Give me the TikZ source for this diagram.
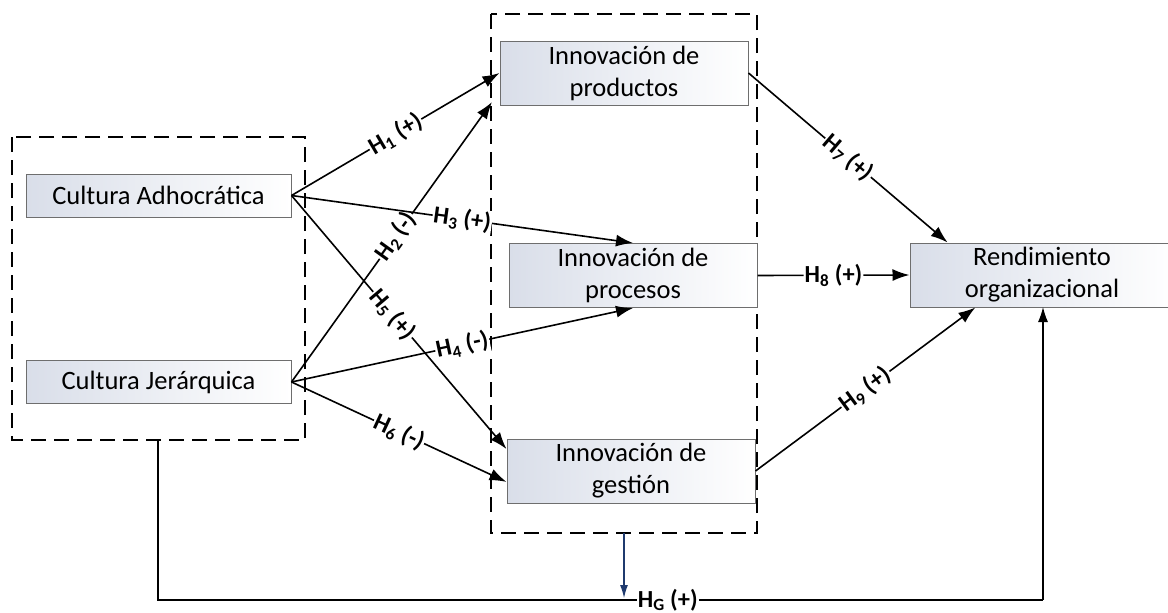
\documentclass[tikz,border=0pt]{standalone}
\usepackage{fontspec}
\setmainfont{Carlito}
\usetikzlibrary{arrows.meta,calc}
\definecolor{boxl}{HTML}{D9DEE9}
\definecolor{boxb}{HTML}{6E6E6E}
\definecolor{hgblue}{HTML}{1F3A6E}
\begin{document}
\begin{tikzpicture}[x=1pt,y=-1pt,
  box/.style={draw=boxb, line width=1pt, left color=boxl, right color=white,
    minimum width=248pt, minimum height=64pt, inner sep=0pt, align=center,
    font=\fontsize{26.5}{32}\selectfont},
  cbox/.style={box, minimum width=265pt, minimum height=43pt},
  grp/.style={draw, dash pattern=on 15pt off 8pt, line width=1.4pt},
  conn/.style={-{Latex[length=17pt,width=12pt]}, line width=1.6pt},
  lab/.style={font=\bfseries\fontsize{24.5}{26}\selectfont, fill=white, inner sep=1pt, sloped},
  thinl/.style={line width=1.2pt}]
\useasboundingbox (0,0) rectangle (1168,613);
\fill[white] (0,0) rectangle (1168,613);
% group boxes
\draw[grp] (12,137) rectangle (305,440);
\draw[grp] (491,14) rectangle (757,533);
\coordinate (lgb) at (158,440);
\coordinate (mgb) at (624,533);
% nodes
\node[cbox] (ca) at (158.5,195.5) {Cultura Adhocrática};
\node[cbox] (cj) at (158.5,382) {Cultura Jerárquica};
\node[box] (ip) at (624,73) {Innovación de\\productos};
\node[box] (ipr) at (633,275.5) {Innovación de\\procesos};
\node[box] (ig) at (631,471) {Innovación de\\gestión};
\node[box, minimum width=264pt] (ro) at (1042,275) {Rendimiento\\organizacional};
\coordinate (h2e) at (492,102);
\coordinate (blc) at (158,600);
\coordinate (brc) at (1043,600);
\coordinate (hgt) at (1043,307);
\coordinate (hgm) at (624,598);
% connectors
\draw[conn] (ca.east) -- node[lab]{H\textsubscript{1} (+)} (ip.west);
\draw[conn] (cj.east) -- node[lab, pos=0.52]{H\textsubscript{2} (-)} (h2e);
\draw[conn] (ca.east) -- node[lab]{H\textsubscript{3} (+)} (ipr.north);
\draw[conn] (cj.east) -- node[lab]{H\textsubscript{4} (-)} (ipr.south);
\draw[conn] (ca.east) -- node[lab, pos=0.47]{H\textsubscript{5} (+)} (ig.170);
\draw[conn] (cj.east) -- node[lab]{H\textsubscript{6} (-)} (ig.185);
\draw[conn] (ip.east) -- node[lab]{H\textsubscript{7} (+)} (ro.161);
\draw[conn] (ipr.east) -- node[lab]{H\textsubscript{8} (+)} (ro.west);
\draw[conn] (ig.east) -- node[lab]{H\textsubscript{9} (+)} (ro.206);
% global path
\draw[thinl] (lgb) -- (blc) -- node[lab, pos=0.576]{H\textsubscript{G} (+)} (brc);
\draw[thinl, -{Latex[length=15pt,width=10pt]}] (brc) -- (hgt);
\draw[line width=1.2pt, hgblue, -{Latex[length=13pt,width=8pt]}] (mgb) -- (hgm);
\end{tikzpicture}
\end{document}
